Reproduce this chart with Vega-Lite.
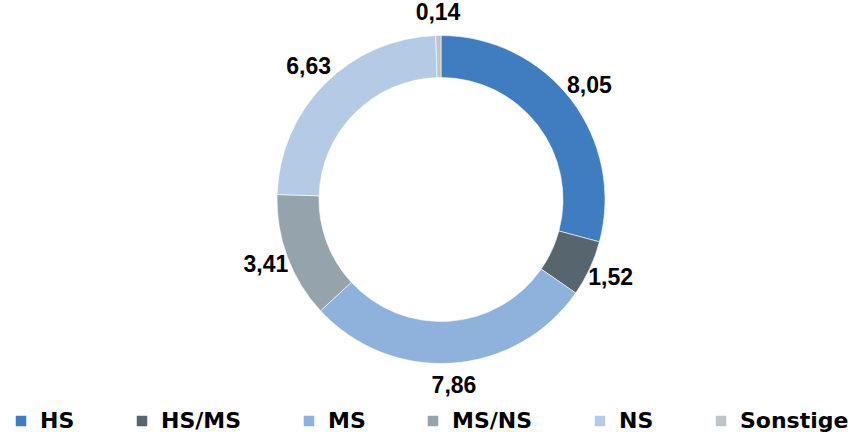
{
  "$schema": "https://vega.github.io/schema/vega-lite/v6.json",
  "autosize": {"type": "none"},
  "width": 814,
  "height": 399,
  "padding": {"left": 34, "top": 0, "right": 0, "bottom": 33},
  "background": "white",
  "config": {
    "view": {"stroke": null},
    "locale": {"number": {"decimal": ",", "thousands": ".", "grouping": [3], "currency": ["", " €"]}}
  },
  "data": {
    "values": [
      {"cat": "HS", "value": 8.05},
      {"cat": "HS/MS", "value": 1.52},
      {"cat": "MS", "value": 7.86},
      {"cat": "MS/NS", "value": 3.41},
      {"cat": "NS", "value": 6.63},
      {"cat": "Sonstige", "value": 0.14}
    ]
  },
  "encoding": {
    "theta": {"field": "value", "type": "quantitative", "stack": true},
    "order": {"field": "cat", "type": "ordinal", "sort": "ascending"}
  },
  "layer": [
    {
      "mark": {"type": "arc", "outerRadius": 164, "innerRadius": 122, "stroke": "white", "strokeWidth": 0.6},
      "encoding": {
        "color": {
          "field": "cat",
          "type": "nominal",
          "scale": {
            "domain": ["HS", "HS/MS", "MS", "MS/NS", "NS", "Sonstige"],
            "range": ["#407dc0", "#57666e", "#8eb2db", "#95a3ac", "#b5cae5", "#bec4ca"]
          },
          "legend": {
            "title": null,
            "orient": "none",
            "legendX": -24,
            "legendY": 410,
            "direction": "horizontal",
            "columns": 6,
            "padding": 0,
            "columnPadding": 56,
            "symbolType": "square",
            "symbolSize": 110,
            "symbolStrokeWidth": 0,
            "symbolOpacity": 1,
            "labelOffset": 8,
            "labelFont": "DejaVu Sans",
            "labelFontWeight": "bold",
            "labelFontSize": 22,
            "labelColor": "#000000",
            "labelLimit": 300
          }
        }
      }
    },
    {
      "mark": {"type": "text", "radius": 187, "font": "Liberation Sans", "fontWeight": "bold", "fontSize": 23, "color": "#000000", "align": "center", "baseline": "middle"},
      "encoding": {
        "text": {"field": "value", "type": "quantitative", "format": ".2f"}
      }
    }
  ]
}
